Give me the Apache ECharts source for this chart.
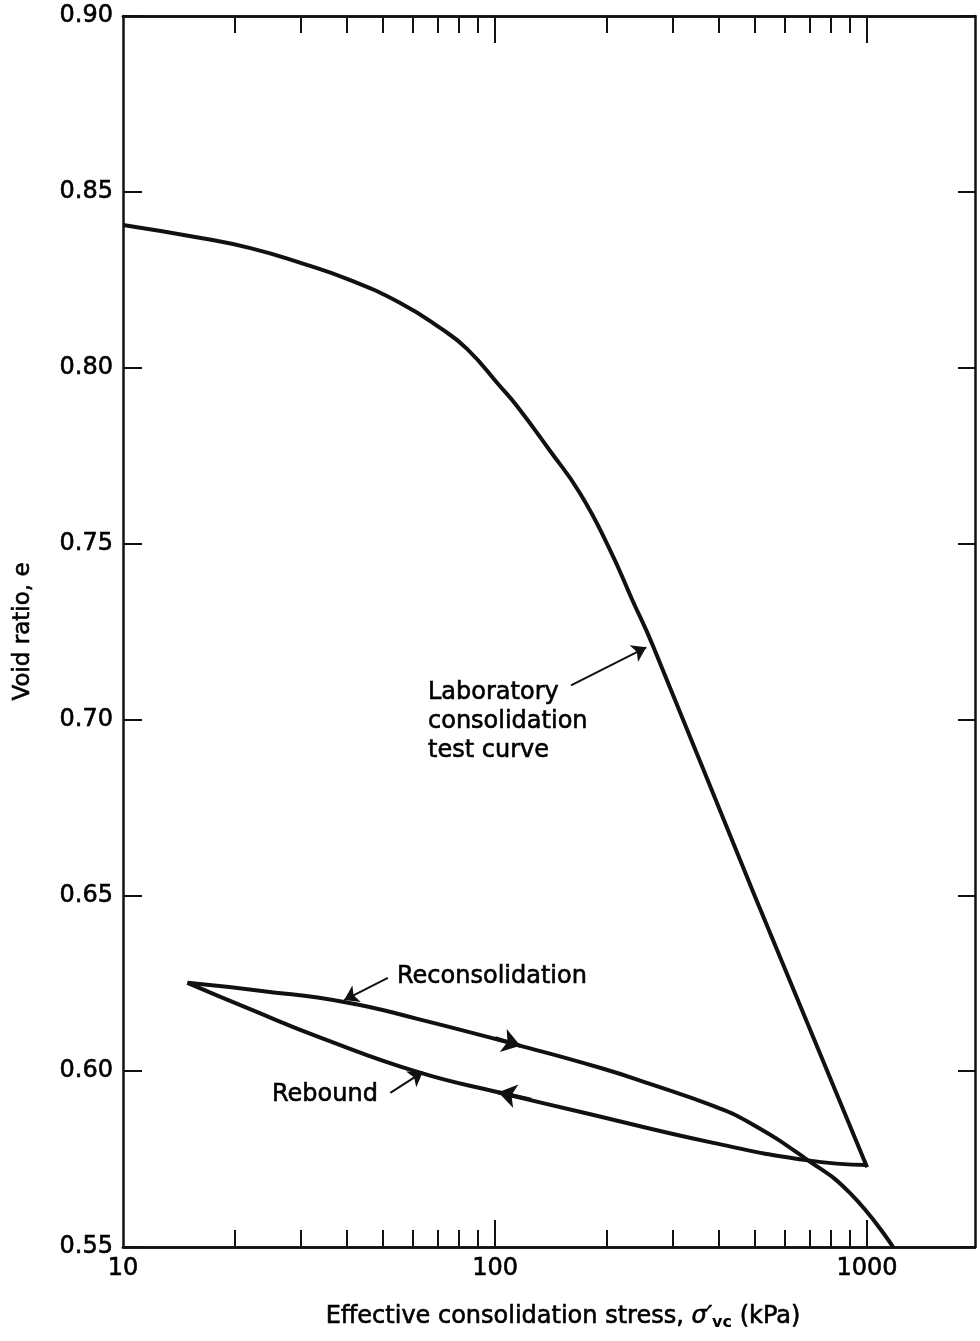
<!DOCTYPE html>
<html>
<head>
<meta charset="utf-8">
<title>Void ratio vs effective consolidation stress</title>
<script src="https://cdn.jsdelivr.net/npm/echarts@6/dist/echarts.min.js"></script>
<style>
html,body{margin:0;padding:0;background:#fff;}
#main{width:980px;height:1341px;}
</style>
</head>
<body>
<div id="main"></div>
<script>
// laboratory consolidation test curve
var labStress = [10, 16.2, 22, 30, 40.8, 55.6, 71.2, 84.2, 103, 114.5, 140, 169, 202, 234, 265, 498, 1000];
var labVoid   = [0.8406, 0.8369, 0.834, 0.8298, 0.8249, 0.8184, 0.8113, 0.8053, 0.7948, 0.7891, 0.7766, 0.7644, 0.749, 0.7339, 0.7212, 0.650, 0.5727];
// rebound (unloading from 1000 kPa)
var rebStress = [1000, 686, 386, 170, 103.8, 62.2, 34.2, 22.2, 14.9];
var rebVoid   = [0.5733, 0.5747, 0.5796, 0.5884, 0.5938, 0.5997, 0.6094, 0.6174, 0.6251];
// reconsolidation (reloading)
var recStress = [14.9, 23.6, 39.6, 62.2, 115.3, 192.4, 262, 386, 486, 686, 900, 1174];
var recVoid   = [0.6251, 0.6228, 0.6196, 0.6148, 0.6074, 0.6009, 0.5963, 0.5901, 0.5852, 0.5750, 0.5653, 0.5500];

// axis ticks
var xLabels = [10, 100, 1000];
var majorTicks = [100, 1000];
var minorTicks = [20, 30, 40, 50, 60, 70, 80, 90, 200, 300, 400, 500, 600, 700, 800, 900];

// arrows: [from, to] in data units
var labPointer   = [[160, 0.7097], [255, 0.7205]];
var recPointer   = [[51.5, 0.6265], [39.3, 0.6202]];
var rebPointer   = [[52.3, 0.5938], [64, 0.5998]];
var recDirection = [[100, 0.6094], [117, 0.6072]];
var rebDirection = [[125, 0.5919], [102, 0.5940]];

var font = 'DejaVu Sans';
var ink = '#111';

function pairs(xs, ys){
	var out = [];
	for(var i=0;i<xs.length;i++){
		out.push([xs[i], ys[i]]);
	}
	return out;
}

function xAx(pos, ticks, len, showLabel){
	return {
		type: 'log',
		logBase: 10,
		min: 10,
		max: 1950,
		position: pos,
		axisLine: {show: true, lineStyle: {color: ink, width: 2.5}},
		axisTick: {show: true, inside: true, length: len, customValues: ticks, lineStyle: {color: ink, width: 2}},
		axisLabel: {show: showLabel, customValues: xLabels, color: '#000', fontFamily: font, fontSize: 24, margin: 10,
			textBorderColor: '#000', textBorderWidth: 0.6,
			formatter: function(v){ return String(Math.round(v)); }},
		splitLine: {show: false},
		minorTick: {show: false}
	};
}

function arrow(seg, width, size, curve){
	var ls = {width: width, curveness: curve || 0};
	return [
		{coord: seg[0], lineStyle: ls},
		{coord: seg[1], lineStyle: ls, symbolSize: size}
	];
}

function txt(text, x, y, va, lh){
	return {type: 'text', x: x, y: y, style: {text: text, fontFamily: font, fontSize: 24, lineHeight: lh || 29,
		fill: '#000', stroke: '#000', lineWidth: 0.6, verticalAlign: va}};
}

var myChart = echarts.init(document.getElementById('main'));

var bottomMain = xAx('bottom', majorTicks, 27, true);
bottomMain.name = '{t|Effective consolidation stress, }{s|σ′}{b|vc}{t| (kPa)}';
bottomMain.nameLocation = 'middle';
bottomMain.nameGap = 58;
bottomMain.nameTextStyle = {
	color: '#000',
	padding: [0, 0, 0, 28],
	rich: {
		t: {fontFamily: font, fontSize: 24, lineHeight: 26, verticalAlign: 'top', color: '#000', textBorderColor: '#000', textBorderWidth: 0.6},
		s: {fontFamily: font, fontSize: 24, lineHeight: 26, verticalAlign: 'top', fontStyle: 'italic', color: '#000', textBorderColor: '#000', textBorderWidth: 0.6},
		b: {fontFamily: font, fontSize: 16, lineHeight: 16, verticalAlign: 'bottom', fontWeight: 'bold', color: '#000'}
	}
};

var option = {
	animation: false,
	backgroundColor: '#fff',
	grid: {left: 123, right: 5, top: 16, bottom: 94},
	xAxis: [
		bottomMain,
		xAx('top', majorTicks, 27, false),
		xAx('bottom', minorTicks, 17, false),
		xAx('top', minorTicks, 17, false)
	],
	yAxis: [
		{
			type: 'value',
			min: 0.55,
			max: 0.90,
			interval: 0.05,
			position: 'left',
			name: 'Void ratio, e',
			nameLocation: 'middle',
			nameGap: 88,
			nameTextStyle: {color: '#000', fontFamily: font, fontSize: 23, textBorderColor: '#000', textBorderWidth: 0.6},
			axisLine: {show: true, lineStyle: {color: ink, width: 2.5}},
			axisTick: {show: true, inside: true, length: 19, lineStyle: {color: ink, width: 2}},
			axisLabel: {color: '#000', fontFamily: font, fontSize: 24, margin: 10,
				textBorderColor: '#000', textBorderWidth: 0.6,
				formatter: function(v){ return v.toFixed(2); }},
			splitLine: {show: false}
		},
		{
			type: 'value',
			min: 0.55,
			max: 0.90,
			interval: 0.05,
			position: 'right',
			axisLine: {show: true, lineStyle: {color: ink, width: 2.5}},
			axisTick: {show: true, inside: true, length: 17, lineStyle: {color: ink, width: 2}},
			axisLabel: {show: false},
			splitLine: {show: false}
		}
	],
	series: [
		{
			name: 'Laboratory consolidation test curve',
			type: 'line',
			data: pairs(labStress, labVoid),
			smooth: 0.5,
			showSymbol: false,
			lineStyle: {color: ink, width: 4},
			markLine: {
				silent: true,
				symbol: ['none', 'arrow'],
				symbolSize: 14,
				label: {show: false},
				lineStyle: {color: ink, type: 'solid', width: 2},
				data: [
					arrow(labPointer, 2, 14),
					arrow(recPointer, 2, 14, 0.3),
					arrow(rebPointer, 2, 14),
					arrow(recDirection, 4, 18),
					arrow(rebDirection, 4, 18)
				]
			}
		},
		{
			name: 'Rebound',
			type: 'line',
			data: pairs(rebStress, rebVoid),
			smooth: 0.5,
			showSymbol: false,
			lineStyle: {color: ink, width: 4}
		},
		{
			name: 'Reconsolidation',
			type: 'line',
			data: pairs(recStress, recVoid),
			smooth: 0.5,
			showSymbol: false,
			lineStyle: {color: ink, width: 4}
		}
	],
	graphic: [
		txt('Laboratory\nconsolidation\ntest curve', 428, 678, 'top'),
		txt('Reconsolidation', 397, 977, 'middle'),
		txt('Rebound', 272, 1095, 'middle')
	]
};
myChart.setOption(option);
</script>
</body>
</html>
